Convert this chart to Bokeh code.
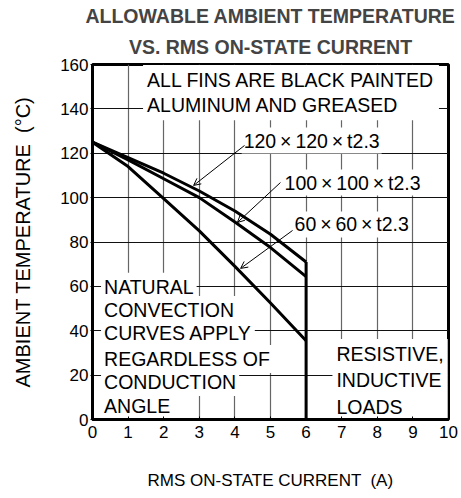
from bokeh.plotting import figure
from bokeh.models import Range1d, ColumnDataSource, Arrow, OpenHead, Title, FixedTicker
from bokeh.core.properties import value
from bokeh.embed import file_html
from bokeh.resources import INLINE

FONT = "Liberation Sans"

# ---- data ----
current = [0, 1, 2, 3, 4, 5, 6]
temp_120 = [125, 118, 111, 103, 94, 83.5, 71]
temp_100 = [125, 117, 108.5, 100, 89, 77.5, 64.4]
temp_60 = [125, 114, 99.5, 85, 69, 52.5, 35.5]
limit_current = 6
limit_top = 71

x_ticks = [0, 1, 2, 3, 4, 5, 6, 7, 8, 9, 10]
y_ticks = [0, 20, 40, 60, 80, 100, 120, 140, 160]

title_lines = ["ALLOWABLE AMBIENT TEMPERATURE", "VS. RMS ON-STATE CURRENT"]
x_label = "RMS ON-STATE CURRENT \u00a0(A)"
y_label = "AMBIENT TEMPERATURE \u00a0(°C)"

fin_labels = ["120\u2009×\u2009120\u2009×\u2009t2.3", "100\u2009×\u2009100\u2009×\u2009t2.3", "60\u2009×\u200960\u2009×\u2009t2.3"]
fin_label_x = [4.19, 5.34, 5.62]
fin_label_y = [125.7, 106.8, 87.9]
leader_x0 = [4.27, 5.28, 5.62]
leader_y0 = [123.5, 106.8, 85.2]
leader_x1 = [2.84, 4.07, 4.16]
leader_y1 = [105.5, 88.8, 68.1]

note_top = ["ALL FINS ARE BLACK PAINTED\nALUMINUM AND GREASED"]
note_left = ["NATURAL", "CONVECTION", "CURVES APPLY", "REGARDLESS OF", "CONDUCTION", "ANGLE"]
note_left_y = [59.8, 49.4, 39.0, 27.3, 16.9, 6.3]
note_right = ["RESISTIVE,\nINDUCTIVE\nLOADS"]

p = figure(width=461, height=498, output_backend="svg", toolbar_location=None,
           x_range=Range1d(0, 10), y_range=Range1d(0, 160),
           min_border_left=92, min_border_right=13, min_border_top=64, min_border_bottom=79)
p.title = None
p.add_layout(Title(text=title_lines[1], align="center", text_font=FONT,
                   text_font_size="19.5px", text_font_style="bold", offset=-5, standoff=14), "above")
p.add_layout(Title(text=title_lines[0], align="center", text_font=FONT,
                   text_font_size="19.5px", text_font_style="bold", offset=-5, standoff=0), "above")

p.outline_line_color = "black"
p.outline_line_width = 3
p.background_fill_color = "white"
p.border_fill_color = "white"

p.xgrid.ticker = FixedTicker(ticks=x_ticks)
p.ygrid.ticker = FixedTicker(ticks=y_ticks)
p.xgrid.grid_line_color = "#666666"
p.ygrid.grid_line_color = "#111111"
p.xgrid.grid_line_width = 1.2
p.ygrid.grid_line_width = 1.2

for ax, ticks in ((p.xaxis, x_ticks), (p.yaxis, y_ticks)):
    ax.ticker = FixedTicker(ticks=ticks)
    ax.axis_line_color = "black"
    ax.axis_line_width = 3
    ax.major_label_text_font = FONT
    ax.major_label_text_font_size = "17px"
    ax.major_label_text_color = "black"
    ax.axis_label_text_font = FONT
    ax.axis_label_text_font_size = "17px"
    ax.axis_label_text_font_style = "normal"
    ax.axis_label_text_color = "black"
    ax.minor_tick_line_color = None
    ax.major_tick_line_color = "black"

p.xaxis.major_tick_in = 3
p.xaxis.major_tick_out = 0
p.xaxis.major_label_standoff = 6
p.xaxis.axis_label = x_label
p.xaxis.axis_label_standoff = 30
p.yaxis.major_tick_in = 0
p.yaxis.major_tick_out = 2
p.yaxis.major_label_standoff = 2
p.yaxis.axis_label = y_label
p.yaxis.axis_label_text_font_size = "20px"
p.yaxis.axis_label_standoff = 23

# text boxes (white backgrounds hide the grid)
src_top = ColumnDataSource(dict(x=[1.42], y=[147.3], t=note_top))
p.text(x="x", y="y", text="t", source=src_top, text_font=value(FONT), text_font_size="19.5px",
       text_align="left", text_baseline="middle", text_line_height=1.15,
       background_fill_color="white", padding=4, text_color="black")

src_left = ColumnDataSource(dict(x=[0.24] * len(note_left), y=note_left_y, t=note_left))
p.text(x="x", y="y", text="t", source=src_left, text_font=value(FONT), text_font_size="19.5px",
       text_align="left", text_baseline="middle",
       background_fill_color="white", padding=3, text_color="black")

src_right = ColumnDataSource(dict(x=[6.74], y=[17.6], t=note_right))
p.text(x="x", y="y", text="t", source=src_right, text_font=value(FONT), text_font_size="19.5px",
       text_align="left", text_baseline="middle", text_line_height=1.2,
       background_fill_color="white", padding=4, text_color="black")

# curves
for ys in (temp_120, temp_100, temp_60):
    p.line(current, ys, line_color="black", line_width=3)
p.segment(x0=[limit_current], y0=[0], x1=[limit_current], y1=[limit_top],
          line_color="black", line_width=3)

# leaders
for i in range(3):
    p.add_layout(Arrow(end=OpenHead(size=7, line_width=1, line_color="black"),
                       x_start=leader_x0[i], y_start=leader_y0[i],
                       x_end=leader_x1[i], y_end=leader_y1[i],
                       line_color="black", line_width=1))

src_fin = ColumnDataSource(dict(x=fin_label_x, y=fin_label_y, t=fin_labels))
p.text(x="x", y="y", text="t", source=src_fin, text_font=value(FONT), text_font_size="19.5px",
       text_align="left", text_baseline="middle",
       background_fill_color="white", padding=2, text_color="black")

open("out.html", "w").write(file_html(p, INLINE))
